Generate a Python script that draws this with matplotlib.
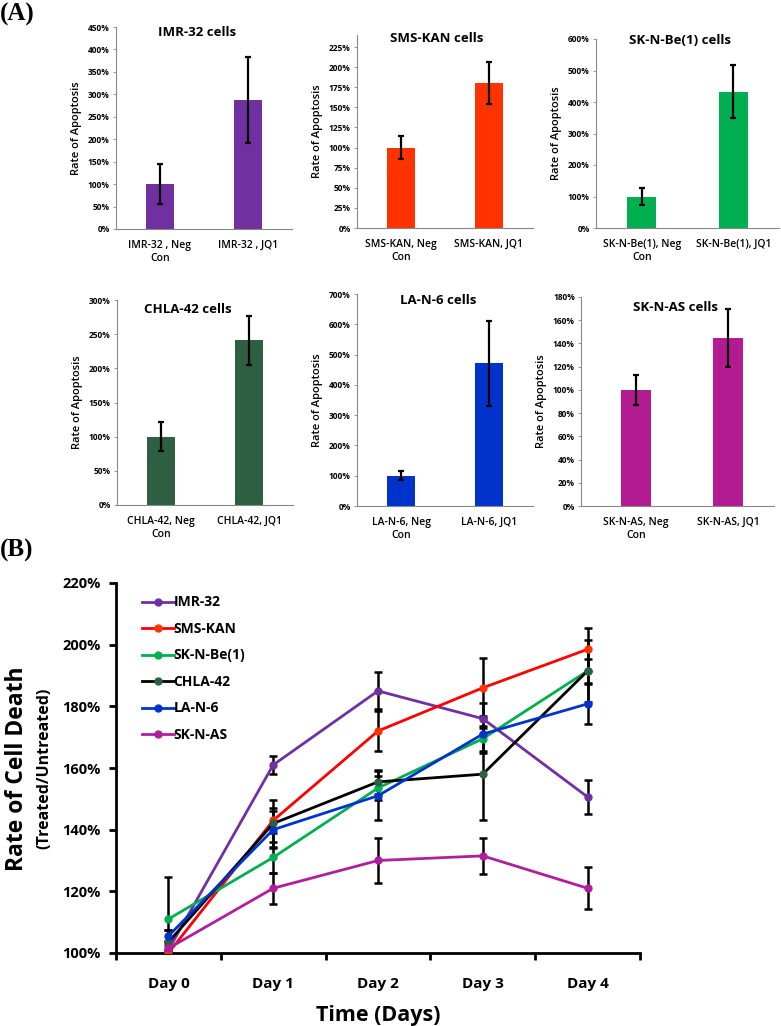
import numpy as np
import matplotlib
matplotlib.use('Agg')
import matplotlib.pyplot as plt
from matplotlib.ticker import PercentFormatter, MultipleLocator

plt.rcParams['font.family'] = ['Open Sans', 'DejaVu Sans']

# ---- panel A data (rate of apoptosis, %)
cells = ['IMR-32', 'SMS-KAN', 'SK-N-Be(1)', 'CHLA-42', 'LA-N-6', 'SK-N-AS']
bar_labels = [['IMR-32 , Neg\nCon', 'IMR-32 , JQ1'],
              ['SMS-KAN, Neg\nCon', 'SMS-KAN, JQ1'],
              ['SK-N-Be(1), Neg\nCon', 'SK-N-Be(1), JQ1'],
              ['CHLA-42, Neg\nCon', 'CHLA-42, JQ1'],
              ['LA-N-6, Neg\nCon', 'LA-N-6, JQ1'],
              ['SK-N-AS, Neg\nCon', 'SK-N-AS, JQ1']]
apop_vals = [[100, 287], [100, 180], [100, 432], [100, 241], [100, 471], [100, 145]]
apop_errs = [[44, 96], [14, 26], [28, 84], [21, 36], [15, 140], [13, 25]]
bar_colors = ['#7030A0', '#FF3300', '#00B050', '#2F5F42', '#0033CC', '#B31B93']
ymax = [450, 240, 600, 300, 700, 180]
ytop = [450, 225, 600, 300, 700, 180]
ystep = [50, 25, 100, 50, 100, 20]

# ---- panel B data (rate of cell death, treated/untreated, %)
days = ['Day 0', 'Day 1', 'Day 2', 'Day 3', 'Day 4']
lines = ['IMR-32', 'SMS-KAN', 'SK-N-Be(1)', 'CHLA-42', 'LA-N-6', 'SK-N-AS']
imr32 = [101, 161, 185, 176, 150.6]
smskan = [100, 143, 172, 186, 198.5]
sknbe = [111, 131, 153.5, 169.5, 191.5]
chla42 = [103.5, 142, 155.5, 158, 191.5]
lan6 = [105.5, 140, 151, 171, 180.8]
sknas = [101.5, 121, 130, 131.5, 121]
imr32_err = [3, 3, 6, 5, 5.6]
smskan_err = [1, 4, 6.5, 9.7, 7]
sknbe_err = [13.5, 5, 4, 4, 10]
chla42_err = [4, 7.5, 4, 15, 4]
lan6_err = [2, 6, 8, 6, 6.4]
sknas_err = [1, 5, 7.3, 5.8, 6.8]
line_colors = ['#7030A0', '#FF0000', '#00B050', '#000000', '#0033CC', '#B01E9B']
marker_colors = ['#7030A0', '#FF3300', '#00B050', '#2F5F42', '#0033CC', '#B01E9B']

W, H = 781, 1026
fig = plt.figure(figsize=(W/100, H/100), dpi=100)

def box(l, r, t, b):
    return [l/W, 1 - b/H, (r - l)/W, (b - t)/H]

# axes boxes in pixels (left, right, top, bottom) and title spots
boxes = [(116, 292, 27, 229), (357, 533, 35, 228), (596, 779, 39, 228),
         (117, 293, 300, 505), (357, 533, 294, 506), (581, 774, 297, 506)]
xlims = [(-0.5, 1.5)] * 5 + [(-0.6, 1.5)]
title_pos = [(0.46, 0.975), (0.45, 0.98), (0.46, 0.99),
             (0.40, 0.956), (0.46, 0.97), (0.49, 0.95)]

for i in range(6):
    ax = fig.add_axes(box(*boxes[i]))
    x = np.arange(2)
    ax.bar(x, apop_vals[i], width=0.32, color=bar_colors[i], zorder=2)
    ax.errorbar(x, apop_vals[i], yerr=apop_errs[i], fmt='none', ecolor='black',
                elinewidth=1.6, capsize=2.5, capthick=1.6, zorder=3)
    ax.set_xlim(*xlims[i])
    ax.set_ylim(0, ymax[i])
    ax.set_yticks(np.arange(0, ytop[i] + 1, ystep[i]))
    ax.yaxis.set_major_formatter(PercentFormatter(100, decimals=0))
    ax.set_xticks(x)
    ax.set_xticklabels(bar_labels[i], fontsize=7.5, fontweight='semibold')
    ax.tick_params(axis='x', length=0, pad=8)
    ax.tick_params(axis='y', labelsize=6, length=2.5, width=0.6, color='#888888', pad=2)
    for lab in ax.get_yticklabels():
        lab.set_fontweight('bold')
    for s in ['top', 'right']:
        ax.spines[s].set_visible(False)
    for s in ['left', 'bottom']:
        ax.spines[s].set_color('#888888')
        ax.spines[s].set_linewidth(0.8)
    ax.set_ylabel('Rate of Apoptosis', fontsize=8, fontweight='semibold', labelpad=4)
    ax.text(title_pos[i][0], title_pos[i][1], cells[i] + ' cells', transform=ax.transAxes,
            ha='center', va='center', fontsize=9.5, fontweight='bold')

# ---- panel B
axb = fig.add_axes(box(116, 640, 583, 953))
xd = np.arange(len(days))
series = [imr32, smskan, sknbe, chla42, lan6, sknas]
errs = [imr32_err, smskan_err, sknbe_err, chla42_err, lan6_err, sknas_err]
for i in range(len(lines)):
    axb.errorbar(xd, series[i], yerr=errs[i], fmt='none', ecolor='black',
                 elinewidth=1.8, capsize=3, capthick=1.8, zorder=2)
for i in range(len(lines)):
    axb.plot(xd, series[i], color=line_colors[i], lw=2, marker='o', ms=5,
             mfc=marker_colors[i], mec=marker_colors[i], label=lines[i], zorder=3)
axb.set_xlim(-0.5, 4.5)
axb.set_ylim(100, 220)
axb.yaxis.set_major_locator(MultipleLocator(20))
axb.yaxis.set_major_formatter(PercentFormatter(100, decimals=0))
axb.set_xticks(xd)
axb.set_xticklabels(days, fontsize=11, fontweight='bold')
axb.set_xticks(np.arange(-0.5, 4.6, 1), minor=True)
axb.tick_params(axis='x', which='major', length=0, pad=17)
axb.tick_params(axis='x', which='minor', length=5, width=2, direction='out')
axb.tick_params(axis='y', length=5, width=2, labelsize=10.5, pad=6)
for lab in axb.get_yticklabels():
    lab.set_fontweight('bold')
for s in ['top', 'right']:
    axb.spines[s].set_visible(False)
for s in ['left', 'bottom']:
    axb.spines[s].set_linewidth(2)
axb.set_xlabel('Time (Days)', fontsize=15.5, fontweight='bold', labelpad=10)
leg = axb.legend(loc='upper left', bbox_to_anchor=(0.025, 1.0), frameon=False,
                 handlelength=2.3, handletextpad=0.0, labelspacing=0.9,
                 prop={'size': 10, 'weight': 'bold'})

fig.text(17/W, 1 - 769/H, 'Rate of Cell Death', rotation=90, ha='center', va='center',
         fontsize=16.5, fontweight='bold')
fig.text(44/W, 1 - 768/H, '(Treated/Untreated)', rotation=90, ha='center', va='center',
         fontsize=11.5, fontweight='bold')

fig.text(0.0, 1 - 14/H, '(A)', family=['Liberation Serif', 'DejaVu Serif'], fontsize=18,
         fontweight='bold', ha='left', va='center')
fig.text(0.0, 1 - 550/H, '(B)', family=['Liberation Serif', 'DejaVu Serif'], fontsize=18,
         fontweight='bold', ha='left', va='center')

fig.savefig('out.png', dpi=100)
